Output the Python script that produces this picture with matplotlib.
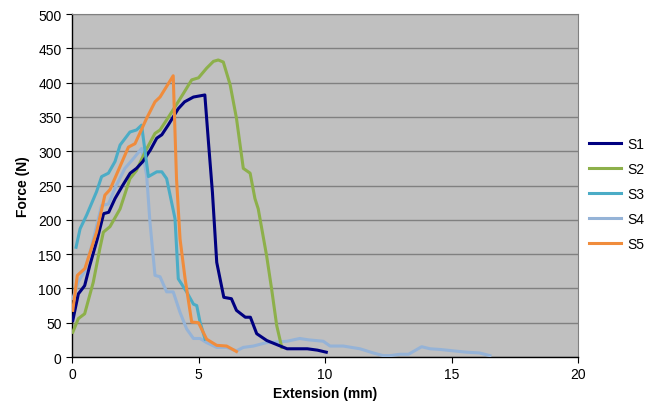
import matplotlib
matplotlib.use("Agg")
import matplotlib.pyplot as plt

plt.rcParams['font.family'] = ['Liberation Sans', 'DejaVu Sans']

s1_x = [0.03, 0.25, 0.5, 0.7, 1.0, 1.25, 1.45, 1.7, 2.0, 2.3, 2.55, 2.8, 3.1, 3.35, 3.55, 3.8, 4.0, 4.2, 4.45, 4.8, 5.25,
        5.4, 5.55, 5.72, 6.0, 6.3, 6.5, 6.85, 7.05, 7.3, 7.7, 8.1, 8.5, 9.3, 9.7, 10.05]
s1_y = [53, 92, 104, 133, 172, 209, 211, 231, 250, 268, 275, 285, 302, 319, 324, 338, 350, 362, 372, 379, 382,
        310, 240, 138, 87, 85, 68, 58, 58, 34, 24, 18, 12, 12, 10, 7]

s2_x = [0.03, 0.25, 0.5, 0.84, 1.1, 1.24, 1.5, 1.9, 2.29, 2.55, 2.9, 3.28, 3.48, 3.87, 4.4, 4.73, 5.0, 5.32, 5.59, 5.78,
        5.98, 6.25, 6.5, 6.77, 7.04, 7.23, 7.36, 7.69, 7.89, 8.09, 8.29]
s2_y = [36, 56, 63, 109, 158, 182, 190, 216, 260, 272, 300, 326, 331, 353, 384, 404, 407, 421, 431, 433,
        430, 397, 348, 275, 268, 231, 216, 148, 99, 46, 14]

s3_x = [0.16, 0.32, 0.58, 0.97, 1.17, 1.44, 1.7, 1.9, 2.29, 2.55, 2.75, 3.02, 3.35, 3.55, 3.74, 4.07, 4.2, 4.53, 4.8,
        4.93, 5.06, 5.26]
s3_y = [160, 187, 207, 241, 263, 268, 285, 309, 328, 331, 338, 263, 270, 270, 260, 202, 114, 95, 77,
        75, 51, 26]

s4_x = [0.03, 0.25, 0.5, 0.8, 1.17, 1.44, 1.7, 2.09, 2.42, 2.75, 2.95, 3.08, 3.28, 3.48, 3.74, 4.0, 4.27, 4.53, 4.8,
        5.06, 5.32, 5.72, 6.11, 6.5, 6.77, 7.17, 7.69, 8.5, 9.0, 9.35, 9.93, 10.2, 10.72, 11.38, 11.9, 12.3, 12.57,
        12.96, 13.3, 13.82, 14.15, 14.55, 15.07, 15.6, 16.1, 16.52]
s4_y = [85, 110, 125, 165, 221, 223, 246, 275, 289, 304, 265, 197, 119, 117, 95, 95, 65, 41, 27,
        27, 21, 14, 14, 9, 14, 16, 21, 23, 27, 25, 23, 16, 16, 12, 6, 2, 2,
        4, 4, 15, 12, 11, 9, 7, 6, 2]

s5_x = [0.03, 0.21, 0.51, 0.97, 1.3, 1.5, 1.83, 2.23, 2.49, 2.95, 3.28, 3.48, 4.0, 4.13, 4.27, 4.47, 4.73, 5.0, 5.32,
        5.72, 6.11, 6.5]
s5_y = [68, 119, 129, 182, 236, 244, 272, 306, 311, 348, 372, 379, 410, 260, 172, 114, 51, 50, 26,
        17, 16, 8]

series_names = ["S1", "S2", "S3", "S4", "S5"]
colors = ["#000080", "#8DB04A", "#4BACC6", "#95B3D7", "#F08C3C"]

x_ticks = [0, 5, 10, 15, 20]
y_ticks = [0, 50, 100, 150, 200, 250, 300, 350, 400, 450, 500]

fig = plt.figure(figsize=(6.57, 4.06), dpi=100)
ax = fig.add_axes([0.1096, 0.1182, 0.7702, 0.8448])
ax.set_facecolor("#C0C0C0")

data = [(s1_x, s1_y), (s2_x, s2_y), (s3_x, s3_y), (s4_x, s4_y), (s5_x, s5_y)]
order = [3, 1, 0, 2, 4]
lines = {}
for i in order:
    xs, ys = data[i]
    ln, = ax.plot(xs, ys, color=colors[i], lw=2.2, solid_joinstyle='round', label=series_names[i], zorder=3)
    lines[i] = ln

ax.set_xlim(0, 20)
ax.set_ylim(0, 500)
ax.set_xticks(x_ticks)
ax.set_yticks(y_ticks)
ax.yaxis.grid(True, color="#808080", lw=1.0)
ax.set_axisbelow(True)
ax.tick_params(axis='both', labelsize=10, direction='out', length=4, color='black')
for side in ("top", "right"):
    ax.spines[side].set_color("#808080")
for side in ("left", "bottom"):
    ax.spines[side].set_color("black")
    ax.spines[side].set_linewidth(1.0)

ax.set_xlabel("Extension (mm)", fontsize=10, fontweight='bold', labelpad=3)
ax.set_ylabel("Force (N)", fontsize=10, fontweight='bold', labelpad=6)

handles = [lines[i] for i in range(5)]
fig.legend(handles, series_names, loc='upper left', bbox_to_anchor=(0.877, 0.692),
           frameon=False, fontsize=10, handlelength=2.3, labelspacing=0.8, handletextpad=0.45)

fig.savefig("out.png", dpi=100)
